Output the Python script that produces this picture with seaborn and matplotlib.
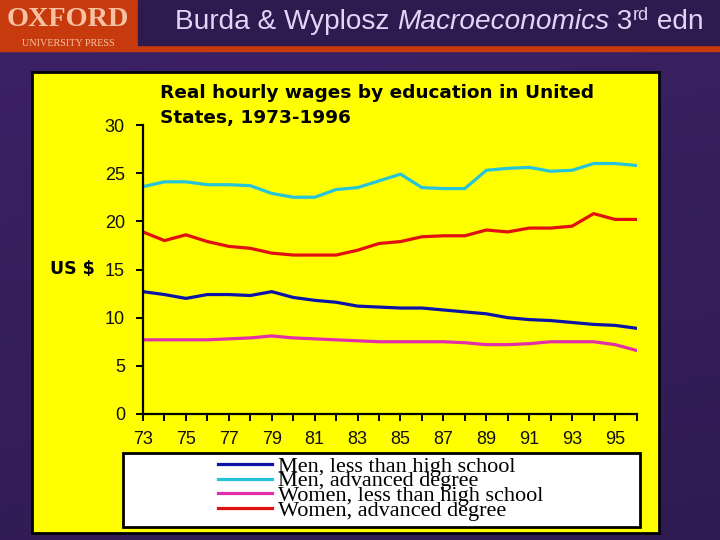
import numpy as np
import pandas as pd
import matplotlib
matplotlib.use("Agg")
import matplotlib.pyplot as plt
import seaborn as sns
from matplotlib.patches import Rectangle
from matplotlib.lines import Line2D

# ---------------- data ----------------
years = list(range(1973, 1997))
men_less_hs = [12.7, 12.4, 12.0, 12.4, 12.4, 12.3, 12.7, 12.1, 11.8, 11.6, 11.2, 11.1,
               11.0, 11.0, 10.8, 10.6, 10.4, 10.0, 9.8, 9.7, 9.5, 9.3, 9.2, 8.9]
men_adv = [23.6, 24.1, 24.1, 23.8, 23.8, 23.7, 22.9, 22.5, 22.5, 23.3, 23.5, 24.2,
           24.9, 23.5, 23.4, 23.4, 25.3, 25.5, 25.6, 25.2, 25.3, 26.0, 26.0, 25.8]
women_less_hs = [7.7, 7.7, 7.7, 7.7, 7.8, 7.9, 8.1, 7.9, 7.8, 7.7, 7.6, 7.5,
                 7.5, 7.5, 7.5, 7.4, 7.2, 7.2, 7.3, 7.5, 7.5, 7.5, 7.2, 6.6]
women_adv = [18.9, 18.0, 18.6, 17.9, 17.4, 17.2, 16.7, 16.5, 16.5, 16.5, 17.0, 17.7,
             17.9, 18.4, 18.5, 18.5, 19.1, 18.9, 19.3, 19.3, 19.5, 20.8, 20.2, 20.2]
series_names = ["Men, less than high school", "Men, advanced degree",
                "Women, less than high school", "Women, advanced degree"]
series_colors = ["#0c14a8", "#26c4d8", "#e22fa8", "#e01010"]
x_tick_years = list(range(1973, 1996, 2))
x_tick_labels = [str(y % 100) for y in x_tick_years]
y_ticks = [0, 5, 10, 15, 20, 25, 30]
title_text = "Real hourly wages by education in United\nStates, 1973-1996"

df = pd.DataFrame({
    "year": years * 4,
    "wage": men_less_hs + men_adv + women_less_hs + women_adv,
    "series": sum([[n] * len(years) for n in series_names], []),
})

# ---------------- figure ----------------
W, H = 720, 540
fig = plt.figure(figsize=(7.2, 5.4), dpi=100)

bg = fig.add_axes([0, 0, 1, 1])
bg.set_xlim(0, W)
bg.set_ylim(H, 0)
bg.axis("off")

# purple gradient background
gy, gx = np.mgrid[0:1:200j, 0:1:200j]
c1 = np.array([0x3c, 0x22, 0x66]) / 255
c2 = np.array([0x2c, 0x18, 0x4c]) / 255
t = np.clip(0.6 * gy + 0.15 * gx, 0, 1)[..., None]
img = c1 * (1 - t) + c2 * t
bg.imshow(img, extent=[0, W, H, 0], aspect="auto", zorder=0)

# header
bg.add_patch(Rectangle((0, 0), W, 51, color="#c63a0e", zorder=1))
bg.add_patch(Rectangle((138, 0), W - 138, 45, color="#2d1a4e", zorder=2))
bg.text(68, 20, "OXFORD", family="Liberation Serif", weight="bold", fontsize=20.3,
        color="#f7c2a2", ha="center", va="center", zorder=3)
bg.text(68, 44, "UNIVERSITY PRESS", family="Liberation Serif", fontsize=7.3,
        color="#f7c2a2", ha="center", va="center", zorder=3)

# header title, built piecewise
fig.canvas.draw()
renderer = fig.canvas.get_renderer()
hcol = "#e2d4f6"
hx = 175
hy = 22
pieces = [("Burda & Wyplosz ", "normal", 20.2, 0),
          ("Macroeconomics", "italic", 20.2, 0),
          (" 3", "normal", 20.2, 0),
          ("rd", "normal", 13, -7),
          (" edn", "normal", 20.2, 0)]
for txt, style, fs, dy in pieces:
    tt = bg.text(hx, hy + dy, txt, family="Liberation Sans", style=style, fontsize=fs,
                 color=hcol, ha="left", va="center", zorder=3)
    hx += tt.get_window_extent(renderer).width

# yellow panel
bg.add_patch(Rectangle((32, 72), 627, 461, facecolor="#ffff00", edgecolor="black",
                       linewidth=2, zorder=1))
# chart title
bg.text(160, 105.5, title_text, family="DejaVu Sans", weight="bold", fontsize=13.3,
        color="black", ha="left", va="center", linespacing=1.45, zorder=3)
bg.text(50, 269, "US $", family="DejaVu Sans", weight="bold", fontsize=12.5,
        color="black", ha="left", va="center", zorder=3)

# legend box
bg.add_patch(Rectangle((123, 453), 517, 74, facecolor="white", edgecolor="black",
                       linewidth=2, zorder=2))

# ---------------- main axes ----------------
x0, x1, y0, y1 = 143, 636.5, 414, 125
ax = fig.add_axes([x0 / W, 1 - y0 / H, (x1 - x0) / W, (y0 - y1) / H])
ax.patch.set_alpha(0)
sns.lineplot(data=df, x="year", y="wage", hue="series", hue_order=series_names,
             palette=series_colors, linewidth=2.3, ax=ax, legend=False)
ax.set_xlim(1973, 1996)
ax.set_ylim(0, 30)
ax.set_xticks(x_tick_years)
ax.set_xticklabels(x_tick_labels)
ax.set_xticks(list(range(1974, 1997, 2)), minor=True)
ax.set_yticks(y_ticks)
ax.set_xlabel("")
ax.set_ylabel("")
for s in ["top", "right"]:
    ax.spines[s].set_visible(False)
for s in ["left", "bottom"]:
    ax.spines[s].set_linewidth(1.6)
    ax.spines[s].set_color("black")
ax.tick_params(axis="both", which="both", direction="out", length=5, width=1.4,
               color="black")
ax.tick_params(axis="y", pad=8)
ax.tick_params(axis="x", pad=7)
for lab in ax.get_xticklabels() + ax.get_yticklabels():
    lab.set_family("Liberation Sans")
    lab.set_fontsize(13)
    lab.set_color("#111111")

# legend
handles = [Line2D([], [], color=c, linewidth=2.3) for c in series_colors]
leg = fig.legend(handles, series_names, loc="upper left",
                 bbox_to_anchor=(218 / W, 1 - 456 / H), frameon=False,
                 prop={"family": "Liberation Serif", "size": 16},
                 handlelength=2.43, handletextpad=0.27, labelspacing=-0.26,
                 borderpad=0, borderaxespad=0)

fig.savefig("out.png", dpi=100)
